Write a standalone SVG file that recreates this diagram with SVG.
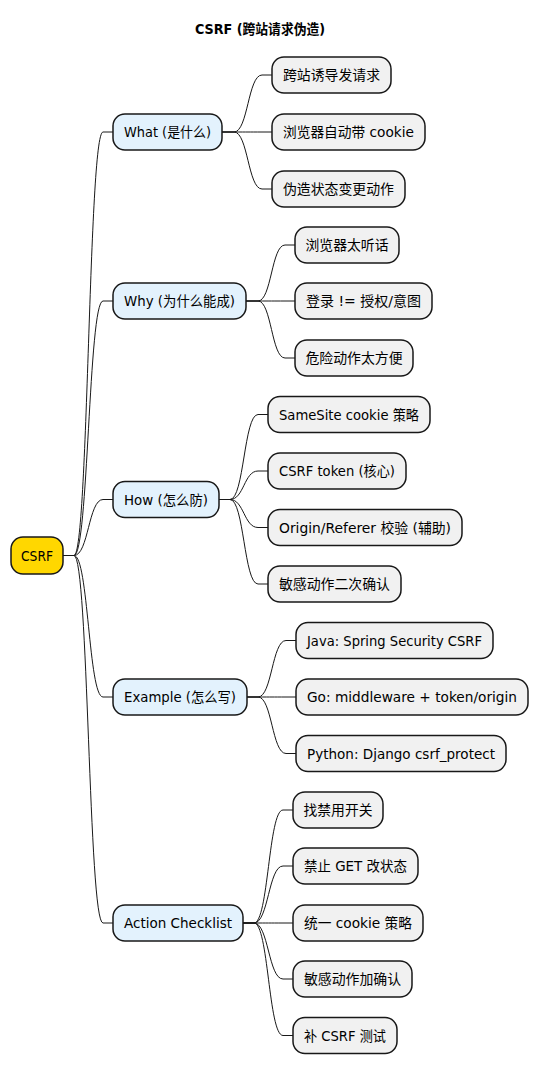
<svg xmlns="http://www.w3.org/2000/svg" width="539" height="1075" viewBox="0 0 539 1075">
<style>
text{font-family:"DejaVu Sans","Noto Sans CJK SC",sans-serif;font-size:14px;fill:#000;text-anchor:middle}
.title{font-weight:bold}
.node rect{stroke:#181818;stroke-width:1.5}
.root{fill:#FFD700}
.l1{fill:#E3F2FD}
.leaf{fill:#F1F1F1}
.conn path{fill:none;stroke:#181818;stroke-width:1}
</style>
<text class="title" x="260" y="34" textLength="130" lengthAdjust="spacingAndGlyphs">CSRF (跨站请求伪造)</text>
<g class="conn" id="connectors">
<path d="M63,555.5 L74,555.5 C88.5,555.5 88.5,132 103,132 L113,132"/>
<path d="M63,555.5 L74,555.5 C88.5,555.5 88.5,301 103,301 L113,301"/>
<path d="M63,555.5 L74,555.5 C88.5,555.5 88.5,499.5 103,499.5 L113,499.5"/>
<path d="M63,555.5 L74,555.5 C88.5,555.5 88.5,697 103,697 L113,697"/>
<path d="M63,555.5 L74,555.5 C88.5,555.5 88.5,923 103,923 L113,923"/>
<path d="M222,132 L234,132 C248,132 248,75 262,75 L272,75"/>
<path d="M222,132 L234,132 C248,132 248,132 262,132 L272,132"/>
<path d="M222,132 L234,132 C248,132 248,189 262,189 L272,189"/>
<path d="M246,301 L258,301 C271.5,301 271.5,245 285,245 L295,245"/>
<path d="M246,301 L258,301 C271.5,301 271.5,301 285,301 L295,301"/>
<path d="M246,301 L258,301 C271.5,301 271.5,358 285,358 L295,358"/>
<path d="M219,499.5 L230,499.5 C244,499.5 244,414.5 258,414.5 L268,414.5"/>
<path d="M219,499.5 L230,499.5 C244,499.5 244,471 258,471 L268,471"/>
<path d="M219,499.5 L230,499.5 C244,499.5 244,527.5 258,527.5 L268,527.5"/>
<path d="M219,499.5 L230,499.5 C244,499.5 244,584 258,584 L268,584"/>
<path d="M247,697 L258,697 C272,697 272,640.5 286,640.5 L296,640.5"/>
<path d="M247,697 L258,697 C272,697 272,697 286,697 L296,697"/>
<path d="M247,697 L258,697 C272,697 272,753.5 286,753.5 L296,753.5"/>
<path d="M243,923 L254,923 C268.5,923 268.5,810 283,810 L293,810"/>
<path d="M243,923 L254,923 C268.5,923 268.5,866 283,866 L293,866"/>
<path d="M243,923 L254,923 C268.5,923 268.5,923 283,923 L293,923"/>
<path d="M243,923 L254,923 C268.5,923 268.5,979 283,979 L293,979"/>
<path d="M243,923 L254,923 C268.5,923 268.5,1035.5 283,1035.5 L293,1035.5"/>
</g>
<g class="node" id="root"><rect class="root" x="11" y="537" width="52" height="37" rx="12"/><text x="37" y="560.5" textLength="32" lengthAdjust="spacingAndGlyphs">CSRF</text></g>
<g class="node" id="what"><rect class="l1" x="113" y="114" width="109" height="36" rx="12"/><text x="167.5" y="137" textLength="87" lengthAdjust="spacingAndGlyphs">What (是什么)</text></g>
<g class="node" id="what1"><rect class="leaf" x="272" y="57" width="119" height="36" rx="12"/><text x="331.5" y="80" textLength="97" lengthAdjust="spacingAndGlyphs">跨站诱导发请求</text></g>
<g class="node" id="what2"><rect class="leaf" x="272" y="114" width="153" height="36" rx="12"/><text x="348.5" y="137" textLength="131" lengthAdjust="spacingAndGlyphs">浏览器自动带 cookie</text></g>
<g class="node" id="what3"><rect class="leaf" x="272" y="171" width="133" height="36" rx="12"/><text x="338.5" y="194" textLength="111" lengthAdjust="spacingAndGlyphs">伪造状态变更动作</text></g>
<g class="node" id="why"><rect class="l1" x="113" y="283" width="133" height="36" rx="12"/><text x="179.5" y="306" textLength="111" lengthAdjust="spacingAndGlyphs">Why (为什么能成)</text></g>
<g class="node" id="why1"><rect class="leaf" x="295" y="227" width="104" height="36" rx="12"/><text x="347" y="250" textLength="83" lengthAdjust="spacingAndGlyphs">浏览器太听话</text></g>
<g class="node" id="why2"><rect class="leaf" x="295" y="283" width="137" height="36" rx="12"/><text x="363.5" y="306" textLength="115" lengthAdjust="spacingAndGlyphs">登录 != 授权/意图</text></g>
<g class="node" id="why3"><rect class="leaf" x="295" y="340" width="118" height="36" rx="12"/><text x="354" y="363" textLength="97" lengthAdjust="spacingAndGlyphs">危险动作太方便</text></g>
<g class="node" id="how"><rect class="l1" x="113" y="481.5" width="106" height="36" rx="12"/><text x="166" y="504.5" textLength="84" lengthAdjust="spacingAndGlyphs">How (怎么防)</text></g>
<g class="node" id="how1"><rect class="leaf" x="268" y="396.5" width="162" height="36" rx="12"/><text x="349" y="419.5" textLength="140" lengthAdjust="spacingAndGlyphs">SameSite cookie 策略</text></g>
<g class="node" id="how2"><rect class="leaf" x="268" y="453" width="138" height="36" rx="12"/><text x="337" y="476" textLength="116" lengthAdjust="spacingAndGlyphs">CSRF token (核心)</text></g>
<g class="node" id="how3"><rect class="leaf" x="268" y="509.5" width="194" height="36" rx="12"/><text x="365" y="532.5" textLength="172" lengthAdjust="spacingAndGlyphs">Origin/Referer 校验 (辅助)</text></g>
<g class="node" id="how4"><rect class="leaf" x="268" y="566" width="133" height="36" rx="12"/><text x="334.5" y="589" textLength="111" lengthAdjust="spacingAndGlyphs">敏感动作二次确认</text></g>
<g class="node" id="example"><rect class="l1" x="113" y="679" width="134" height="36" rx="12"/><text x="180" y="702" textLength="112" lengthAdjust="spacingAndGlyphs">Example (怎么写)</text></g>
<g class="node" id="ex1"><rect class="leaf" x="296" y="622.5" width="197" height="36" rx="12"/><text x="394.5" y="645.5" textLength="175" lengthAdjust="spacingAndGlyphs">Java: Spring Security CSRF</text></g>
<g class="node" id="ex2"><rect class="leaf" x="296" y="679" width="232" height="36" rx="12"/><text x="412" y="702" textLength="210" lengthAdjust="spacingAndGlyphs">Go: middleware + token/origin</text></g>
<g class="node" id="ex3"><rect class="leaf" x="296" y="735.5" width="210" height="36" rx="12"/><text x="401" y="758.5" textLength="188" lengthAdjust="spacingAndGlyphs">Python: Django csrf_protect</text></g>
<g class="node" id="action"><rect class="l1" x="113" y="905" width="130" height="36" rx="12"/><text x="178" y="928" textLength="108" lengthAdjust="spacingAndGlyphs">Action Checklist</text></g>
<g class="node" id="act1"><rect class="leaf" x="293" y="792" width="90" height="36" rx="12"/><text x="338" y="815" textLength="69" lengthAdjust="spacingAndGlyphs">找禁用开关</text></g>
<g class="node" id="act2"><rect class="leaf" x="293" y="848" width="125" height="36" rx="12"/><text x="355.5" y="871" textLength="103" lengthAdjust="spacingAndGlyphs">禁止 GET 改状态</text></g>
<g class="node" id="act3"><rect class="leaf" x="293" y="905" width="130" height="36" rx="12"/><text x="358" y="928" textLength="108" lengthAdjust="spacingAndGlyphs">统一 cookie 策略</text></g>
<g class="node" id="act4"><rect class="leaf" x="293" y="961" width="119" height="36" rx="12"/><text x="352.5" y="984" textLength="97" lengthAdjust="spacingAndGlyphs">敏感动作加确认</text></g>
<g class="node" id="act5"><rect class="leaf" x="293" y="1017.5" width="104" height="36" rx="12"/><text x="345" y="1040.5" textLength="82" lengthAdjust="spacingAndGlyphs">补 CSRF 测试</text></g>
</svg>
